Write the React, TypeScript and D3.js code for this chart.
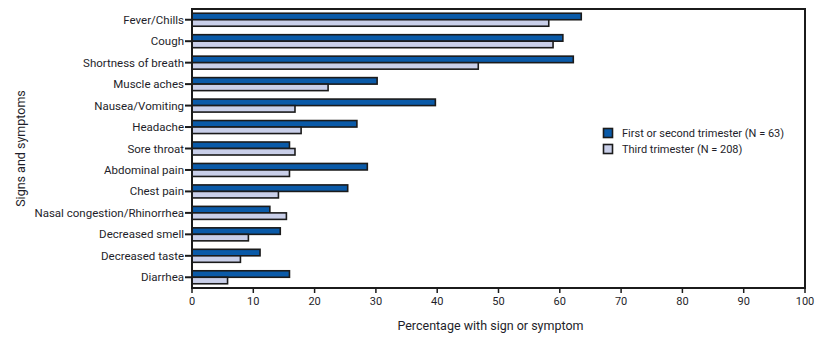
import React from "react";
import * as d3 from "d3";

const categories = [
  "Fever/Chills",
  "Cough",
  "Shortness of breath",
  "Muscle aches",
  "Nausea/Vomiting",
  "Headache",
  "Sore throat",
  "Abdominal pain",
  "Chest pain",
  "Nasal congestion/Rhinorrhea",
  "Decreased smell",
  "Decreased taste",
  "Diarrhea",
];
const firstSecond = [63.5, 60.5, 62.2, 30.2, 39.7, 26.9, 15.9, 28.6, 25.4, 12.7, 14.4, 11.1, 15.9];
const third = [58.2, 58.9, 46.7, 22.2, 16.8, 17.8, 16.8, 15.9, 14.1, 15.4, 9.2, 7.9, 5.8];
const xTicks = [0, 10, 20, 30, 40, 50, 60, 70, 80, 90, 100];
const seriesNames = ["First or second trimester (N = 63)", "Third trimester (N = 208)"];

const W = 822;
const H = 345;
const left = 192;
const right = 805;
const top = 9;
const bottom = 288;
const DARK = "#0a5aa8";
const LIGHT = "#c9cfe9";
const STROKE = "#1b1b1b";
const FONT = "Roboto, 'Open Sans', sans-serif";
const TEXT = "#1e1e2a";

export default function App() {
  const x = d3.scaleLinear().domain([0, 100]).range([left, right]);
  const y = d3.scaleBand<string>().domain(categories).range([top, bottom]).padding(0);
  const bh = 6.5;

  return (
    <svg
      width={W}
      height={H}
      style={{ position: "absolute", left: 0, top: 0, background: "#fff" }}
      fontFamily={FONT}
    >
      {/* bars */}
      {categories.map((c, i) => {
        const cy = (y(c) as number) + y.bandwidth() / 2;
        return (
          <g key={c}>
            <rect
              x={x(0)}
              y={cy - bh}
              width={x(firstSecond[i]) - x(0)}
              height={bh}
              fill={DARK}
              stroke={STROKE}
              strokeWidth={1.6}
            />
            <rect
              x={x(0)}
              y={cy}
              width={x(third[i]) - x(0)}
              height={bh}
              fill={LIGHT}
              stroke={STROKE}
              strokeWidth={1.6}
            />
            <line x1={left - 7} x2={left} y1={cy} y2={cy} stroke={STROKE} strokeWidth={2} />
            <text
              x={left - 8}
              y={cy}
              dy="0.35em"
              textAnchor="end"
              fontSize={11.5}
              fill={TEXT}
            >
              {c}
            </text>
          </g>
        );
      })}

      {/* frame */}
      <path
        d={`M${left},${top}H${right}V${bottom}H${left}Z`}
        fill="none"
        stroke={STROKE}
        strokeWidth={2}
      />

      {/* x ticks */}
      {xTicks.map((t) => (
        <g key={t}>
          <line x1={x(t)} x2={x(t)} y1={bottom} y2={bottom + 5} stroke={STROKE} strokeWidth={1.5} />
          <text x={x(t)} y={bottom + 17} textAnchor="middle" fontSize={11} fill={TEXT}>
            {t}
          </text>
        </g>
      ))}

      <text x={(left + right) / 2 - 8} y={330} textAnchor="middle" fontSize={12.5} fill={TEXT}>
        Percentage with sign or symptom
      </text>
      <text
        transform={`translate(25,${(top + bottom) / 2}) rotate(-90)`}
        textAnchor="middle"
        fontSize={12.5}
        fill={TEXT}
      >
        Signs and symptoms
      </text>

      {/* legend */}
      {seriesNames.map((n, i) => (
        <g key={n} transform={`translate(603,${128 + i * 16})`}>
          <rect x={0.5} y={0.5} width={9} height={9} fill={i === 0 ? DARK : LIGHT} stroke={STROKE} strokeWidth={1.6} />
          <text x={19} y={5} dy="0.35em" fontSize={11} fill={TEXT}>
            {n}
          </text>
        </g>
      ))}
    </svg>
  );
}
